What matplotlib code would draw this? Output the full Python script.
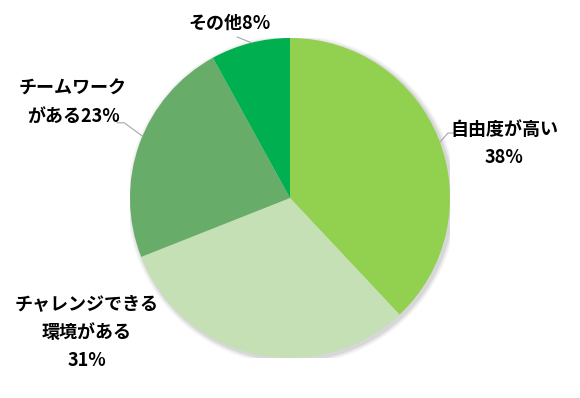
import matplotlib.pyplot as plt
from matplotlib.patches import Circle

plt.rcParams['font.family'] = ['Noto Sans CJK JP', 'DejaVu Sans']

labels = ['自由度が高い\n38%', 'チャレンジできる\n環境がある\n31%', 'チームワーク\nがある23%', 'その他8%']
values = [38, 31, 23, 8]
colors = ['#92D050', '#C5E0B4', '#68AC6A', '#00B050']

# label positions (pie radius = 1)
label_pos = [(1.34, 0.34), (-1.27, -0.84), (-1.356, 0.60), (-0.375, 1.09)]
leader = [[(1.0375, 0.406), (0.9875, 0.406), (0.9375, 0.35)],
          [],
          [(-1.08, 0.47), (-1.036, 0.47), (-0.92, 0.385)],
          [(-0.33, 1.006), (-0.24, 0.97)]]

fig = plt.figure(figsize=(5.8, 3.98), dpi=100)
W, H = 580, 398
cx, cy, r = 290, 198, 160
ax = fig.add_axes([(cx - r) / W, (H - cy - r) / H, 2 * r / W, 2 * r / H])
ax.set_aspect('equal')

# soft shadow behind the pie
for k, a in [(1.03, 0.04), (1.02, 0.05), (1.01, 0.07)]:
    ax.add_patch(Circle((0.012, -0.012), k, color='black', alpha=a, lw=0, zorder=0))

wedges, _ = ax.pie(values, colors=colors, startangle=90, counterclock=False,
                   radius=1, wedgeprops=dict(linewidth=0, zorder=1))

for lab, (x, y) in zip(labels, label_pos):
    ax.text(x, y, lab, ha='center', va='center', fontsize=13, fontweight='bold',
            linespacing=1.62, color='black')

for pts in leader:
    if pts:
        xs = [p[0] for p in pts]
        ys = [p[1] for p in pts]
        ax.plot(xs, ys, color='#A6A6A6', lw=0.8, clip_on=False)

ax.set_xlim(-1, 1)
ax.set_ylim(-1, 1)
ax.axis('off')

fig.savefig('out.png', dpi=100)
